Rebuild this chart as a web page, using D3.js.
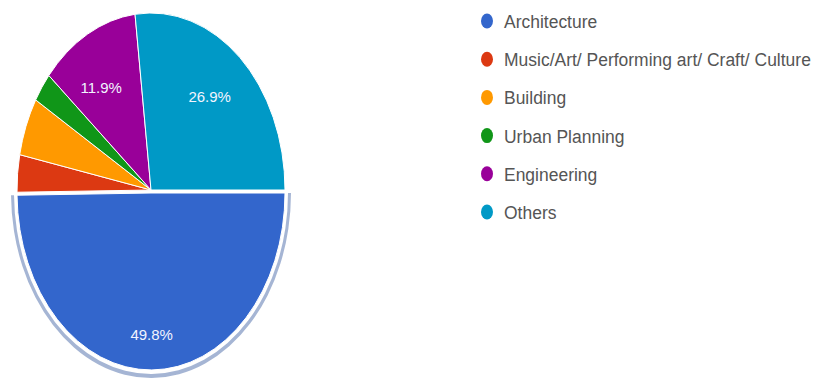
<!DOCTYPE html>
<html><head><meta charset="utf-8">
<script src="https://cdn.jsdelivr.net/npm/d3@7"></script>
<style>html,body{margin:0;padding:0;background:#fff;}svg{display:block;}</style>
</head><body>
<svg id="chart" width="823" height="381"></svg>
<script>
const categories = ["Architecture", "Music/Art/ Performing art/ Craft/ Culture", "Building", "Urban Planning", "Engineering", "Others"];
const values = [49.8, 3.4, 5.3, 2.7, 11.9, 26.9];
const colors = ["#3366cc", "#dc3912", "#ff9900", "#109618", "#990099", "#0099c6"];

const svg = d3.select("#chart");
const cx = 151, cy = 190, rx = 134, ry = 177;
const sy = ry / rx;
const pie = d3.pie().sort(null).value(d => d).startAngle(Math.PI / 2).endAngle(Math.PI / 2 + 2 * Math.PI);
const arcs = pie(values);
const arc = d3.arc().innerRadius(0).outerRadius(rx);
const ring = d3.arc().innerRadius(rx + 3).outerRadius(rx + 6);
const explode = 3;

const g = svg.append("g");
arcs.forEach((d, i) => {
  const off = i === 0 ? explode : 0;
  const sg = g.append("g").attr("transform", `translate(${cx},${cy + off}) scale(1,${sy})`);
  if (i === 0) {
    sg.append("path").attr("d", ring(d)).attr("fill", "#8fa3c9").attr("opacity", 0.8);
  }
  sg.append("path").attr("d", arc(d)).attr("fill", colors[i])
    .attr("stroke", "#fff").attr("stroke-width", 1).attr("vector-effect", "non-scaling-stroke");
});

const total = d3.sum(values);
arcs.forEach((d, i) => {
  if (d.data / total < 0.1) return;
  const f = i === 0 ? 0.8 : 0.66;
  const la = d3.arc().innerRadius(rx * f).outerRadius(rx * f);
  const [x, y] = la.centroid(d);
  const off = i === 0 ? explode : 0;
  svg.append("text")
    .attr("x", cx + x - (i === 4 ? 8 : 0)).attr("y", cy + off + y * sy - (i === 5 ? 6 : 0))
    .attr("text-anchor", "middle").attr("dominant-baseline", "central")
    .attr("fill", "#f2f4ff").attr("font-family", "Liberation Sans, Arial, sans-serif")
    .attr("font-size", 15)
    .text(d3.format(".1f")(d.data / total * 100) + "%");
});

const legend = svg.append("g");
const ly = d3.scalePoint().domain(categories).range([21, 212]);
categories.forEach((c, i) => {
  const y = ly(c);
  legend.append("ellipse").attr("cx", 487).attr("cy", y).attr("rx", 6).attr("ry", 7.5).attr("fill", colors[i]);
  legend.append("text")
    .attr("transform", `translate(504,${y + 7}) scale(0.92,1)`)
    .attr("font-family", "Liberation Sans, Arial, sans-serif").attr("font-size", 19)
    .attr("fill", "#555").text(c);
});
</script>
</body></html>
